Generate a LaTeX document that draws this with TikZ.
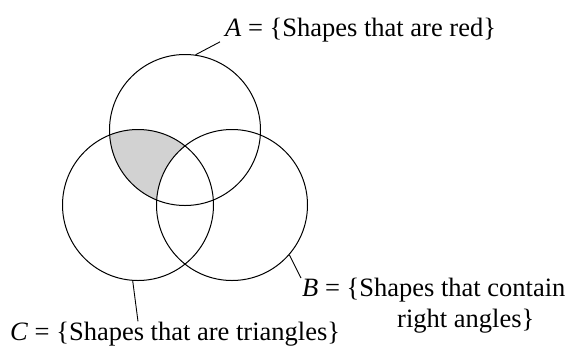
\documentclass[tikz,border=0pt]{standalone}
\usepackage{fontspec}
\setmainfont{Liberation Serif}
\usetikzlibrary{backgrounds}
\begin{document}
\begin{tikzpicture}[
  x=1pt, y=-1pt,
  font=\fontsize{26.5}{31}\selectfont,
  set/.style={circle, draw, line width=1pt, minimum size=151pt, inner sep=0pt},
  setlabel/.style={inner xsep=5pt, inner ysep=0pt, align=left},
  line/.style={draw, line width=.9pt}
]
\useasboundingbox (0,0) rectangle (572,349);

% the three sets
\node[set] (A) at (185,130) {};
\node[set] (B) at (232,205) {};
\node[set] (C) at (138,205) {};

% shaded part: in A and C, not in B
\begin{scope}[on background layer]
  \clip (A.center) circle[radius=75.5pt];
  \clip (C.center) circle[radius=75.5pt];
  \fill[gray!35, even odd rule] (0,0) rectangle (572,349)
    (B.center) circle[radius=75.5pt];
\end{scope}

% labels
\node[setlabel, anchor=base west] (labA) at (220,36)
  {\textit{A} = \{Shapes that are red\}};
\node[setlabel, anchor=north west, inner xsep=1pt] (labB) at (301,278)
  {\textit{B} = \{Shapes that contain\\\hspace*{95pt}right angles\}};
\node[setlabel, anchor=base west] (labC) at (5,340)
  {\textit{C} = \{Shapes that are triangles\}};

% leader lines
\draw[line] (A.82) -- (labA.south west);
\draw[line] (B.-41) -- (labB.north west);
\draw[line] (C.266) -- (C.270 |- labC.north);
\end{tikzpicture}
\end{document}
